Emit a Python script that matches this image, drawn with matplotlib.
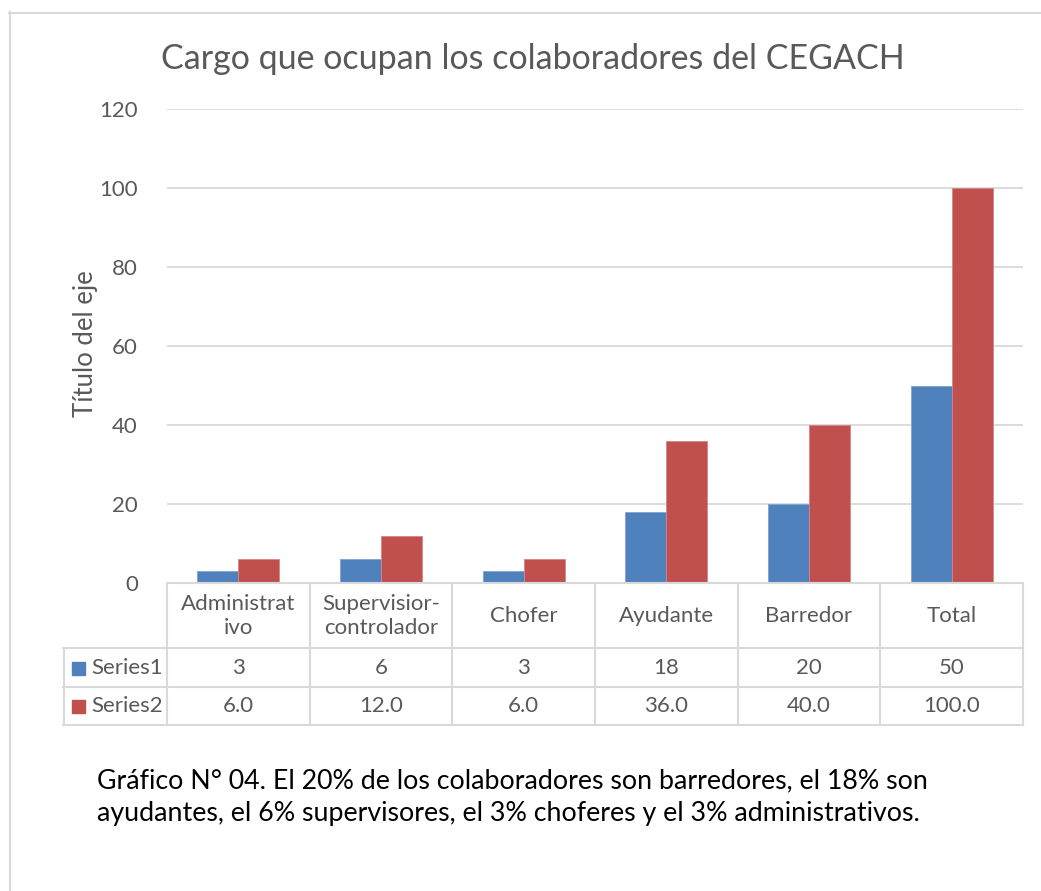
import matplotlib
matplotlib.use("Agg")
import matplotlib.pyplot as plt
import matplotlib.transforms as mtransforms
from matplotlib.patches import Rectangle
import numpy as np

categories = ["Administrat\nivo", "Supervisior-\ncontrolador", "Chofer", "Ayudante", "Barredor", "Total"]
series1 = [3, 6, 3, 18, 20, 50]
series2 = [6.0, 12.0, 6.0, 36.0, 40.0, 100.0]
series_names = ["Series1", "Series2"]
yticks = [0, 20, 40, 60, 80, 100, 120]
title = "Cargo que ocupan los colaboradores del CEGACH"
ylabel = "Título del eje"
caption = ("Gráfico N° 04. El 20% de los colaboradores son barredores, el 18% son\n"
           "ayudantes, el 6% supervisores, el 3% choferes y el 3% administrativos.")

plt.rcParams['font.family'] = ['Lato', 'DejaVu Sans']
W, H = 1041, 891
fig = plt.figure(figsize=(W / 100, H / 100), dpi=100)
TXT = "#595959"
GRID = "#d9d9d9"
BLUE = "#4F81BD"
RED = "#C0504D"
FS = 16

def fx(px):
    return px / W

def fy(py):
    return 1 - py / H

# outer frame
fig.add_artist(plt.Line2D([fx(9), 1], [fy(12.5), fy(12.5)], color=GRID, lw=1.5))
fig.add_artist(plt.Line2D([fx(9.5), fx(9.5)], [fy(12), 0], color=GRID, lw=1.5))

left, right, top, bottom = 167, 1023, 109, 583
ax = fig.add_axes([fx(left), fy(bottom), fx(right) - fx(left), fy(top) - fy(bottom)])
x = np.arange(len(categories))
bw = 0.287
ax.bar(x - bw / 2, series1, bw, color=BLUE, edgecolor="#7fa3d1", linewidth=0.6, zorder=3)
ax.bar(x + bw / 2, series2, bw, color=RED, edgecolor="#d98583", linewidth=0.6, zorder=3)
ax.set_xlim(-0.5, len(categories) - 0.5)
ax.set_ylim(0, 120)
ax.set_yticks(yticks)
ax.set_yticklabels([str(t) for t in yticks], fontsize=FS, color=TXT)
ax.tick_params(axis='y', length=0, pad=21)
ax.set_xticks([])
ax.grid(axis='y', color=GRID, lw=1.3, zorder=0)
for s in ax.spines.values():
    s.set_visible(False)
ax.set_ylabel(ylabel, fontsize=18.5, color=TXT, va='center')
ax.yaxis.set_label_coords((86 - left) / (right - left), 0.505)

fig.text(fx(533), fy(59), title, ha='center', va='center', fontsize=24.5, color=TXT)

# data table
trans = mtransforms.blended_transform_factory(ax.transData, fig.transFigure)
row_y = [583, 648, 687, 725]
bounds = np.arange(len(categories) + 1) - 0.5
for i, ry in enumerate(row_y):
    x0 = fx(63) if i >= 1 else fx(left)
    fig.add_artist(plt.Line2D([x0, fx(right)], [fy(ry), fy(ry)], color=GRID, lw=1.5))
for b in bounds:
    fig.add_artist(plt.Line2D([b, b], [fy(583), fy(725)], color=GRID, lw=1.5, transform=trans))
fig.add_artist(plt.Line2D([fx(63.5), fx(63.5)], [fy(648), fy(725)], color=GRID, lw=1.5))

for i, c in enumerate(categories):
    fig.text(i, fy(616), c, transform=trans, ha='center', va='center', fontsize=FS,
             color=TXT, linespacing=1.3)
    fig.text(i, fy(668), f"{series1[i]:g}", transform=trans, ha='center', va='center',
             fontsize=FS, color=TXT)
    fig.text(i, fy(706.5), f"{series2[i]:.1f}", transform=trans, ha='center', va='center',
             fontsize=FS, color=TXT)

for name, col, cy in [(series_names[0], BLUE, 668), (series_names[1], RED, 706.5)]:
    fig.add_artist(Rectangle((fx(72), fy(cy + 6.5)), fx(13), 13 / H, color=col))
    fig.text(fx(91), fy(cy), name, ha='left', va='center', fontsize=FS, color=TXT)

fig.text(fx(97), fy(797), caption, ha='left', va='center', fontsize=19.3, color="#000000",
         linespacing=1.35)

fig.savefig("out.png", dpi=100)
